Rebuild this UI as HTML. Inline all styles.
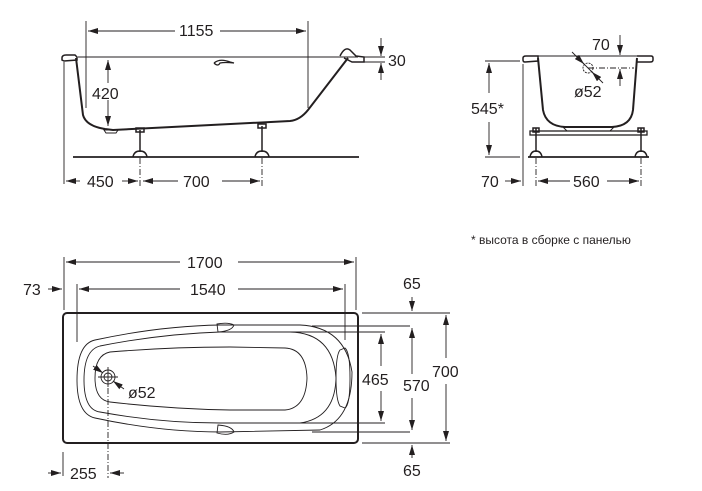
<!DOCTYPE html>
<html><head><meta charset="utf-8"><style>
html,body{margin:0;padding:0;background:#fff;}
svg{display:block;}
text{font-family:"Liberation Sans",sans-serif;fill:#231f20;}
</style></head><body>
<svg width="702" height="491" viewBox="0 0 702 491" xmlns="http://www.w3.org/2000/svg">
<defs>
<marker id="a" viewBox="0 0 10 6" refX="10" refY="3" markerWidth="10" markerHeight="6" orient="auto" markerUnits="userSpaceOnUse"><path d="M0,0 L10,3 L0,6 z" fill="#231f20"/></marker>
</defs>
<g stroke="#231f20" fill="none" stroke-width="0.9">
<!-- ===== Side elevation (left) ===== -->
<line x1="86" y1="21" x2="86" y2="108"/>
<line x1="308" y1="21" x2="308" y2="108"/>
<line x1="175" y1="31" x2="88" y2="31" marker-end="url(#a)"/>
<line x1="220" y1="31" x2="306" y2="31" marker-end="url(#a)"/>
<line x1="78" y1="57" x2="358" y2="57"/>
<line x1="362" y1="57" x2="385" y2="57"/>
<line x1="362" y1="62" x2="385" y2="62"/>
<line x1="381" y1="38" x2="381" y2="56" marker-end="url(#a)"/>
<line x1="381" y1="80" x2="381" y2="63" marker-end="url(#a)"/>
<path d="M62,58 Q62,55 66,55 L75,55 L77,57 L77,60 L64,61 L62,60 z" stroke-width="1.5"/>
<path d="M76,58 L83,115 Q86,126 105,129 L113,130 L290,121 Q300,120 308,110 L348,58" stroke-width="2"/>
<path d="M340,56 Q345,46 350,50 L356,56 L364,57 L364,62 L352,62 Q348,60 344,58" stroke-width="1.5"/>
<path d="M214,63 Q220,58 230,62 L234,63 Q225,62 220,63 Q218,67 214,63" stroke-width="1.3"/>
<line x1="64" y1="62" x2="64" y2="184"/>
<line x1="108" y1="83" x2="108" y2="60" marker-end="url(#a)"/>
<line x1="108" y1="100" x2="108" y2="126" marker-end="url(#a)"/>
<line x1="73" y1="157" x2="359" y2="157" stroke-width="1.8"/>
<path d="M104,130 L118,130 L116,133 L106,133 z" stroke-width="1"/>
<g stroke-width="1.5">
<line x1="140" y1="130" x2="140" y2="152"/><rect x="136" y="128" width="8" height="4"/><path d="M133,157 Q134,151 140,151 Q146,151 147,157"/>
<line x1="262" y1="126" x2="262" y2="152"/><rect x="258" y="124" width="8" height="4"/><path d="M255,157 Q256,151 262,151 Q268,151 269,157"/>
</g>
<g stroke-dasharray="6,2,1,2">
<line x1="140" y1="158" x2="140" y2="186"/><line x1="262" y1="158" x2="262" y2="186"/>
</g>
<line x1="80" y1="181" x2="66" y2="181" marker-end="url(#a)"/>
<line x1="122" y1="181" x2="138" y2="181" marker-end="url(#a)"/>
<line x1="178" y1="181" x2="143" y2="181" marker-end="url(#a)"/>
<line x1="222" y1="181" x2="260" y2="181" marker-end="url(#a)"/>

<!-- ===== End elevation (right) ===== -->
<path d="M523,58 Q523,56 526,56 L538,56 L538,61 L525,62 Q523,62 523,60 z" stroke-width="1.5"/>
<path d="M637,56 L651,56 Q653,56 653,58 L653,60 Q653,62 650,62 L637,62" stroke-width="1.5"/>
<line x1="538" y1="56" x2="637" y2="56"/>
<path d="M538,58 L543,110 Q546,126 565,127 L612,127 Q631,126 633,110 L637,58" stroke-width="2"/>
<path d="M563,127 L567,131 L610,131 L614,127" stroke-width="1"/>
<rect x="530" y="131" width="117" height="4" stroke-width="1.3"/>
<g stroke-width="1.5">
<line x1="536" y1="128" x2="536" y2="152"/><rect x="533" y="128" width="6" height="4"/><path d="M530,157 Q531,151 536,151 Q541,151 542,157"/>
<line x1="641" y1="128" x2="641" y2="152"/><rect x="638" y="128" width="6" height="4"/><path d="M635,157 Q636,151 641,151 Q646,151 647,157"/>
</g>
<line x1="528" y1="157" x2="649" y2="157" stroke-width="1.8"/>
<line x1="485" y1="61" x2="520" y2="61"/>
<line x1="485" y1="157" x2="520" y2="157"/>
<line x1="489" y1="93" x2="489" y2="63" marker-end="url(#a)"/>
<line x1="489" y1="122" x2="489" y2="155" marker-end="url(#a)"/>
<line x1="523" y1="64" x2="523" y2="186"/>
<line x1="505" y1="181" x2="521" y2="181" marker-end="url(#a)"/>
<g stroke-dasharray="6,2,1,2">
<line x1="536" y1="158" x2="536" y2="186"/><line x1="641" y1="158" x2="641" y2="186"/>
<line x1="588" y1="68" x2="634" y2="68"/>
</g>
<line x1="570" y1="181" x2="538" y2="181" marker-end="url(#a)"/>
<line x1="607" y1="181" x2="639" y2="181" marker-end="url(#a)"/>
<circle cx="588" cy="68" r="5" stroke-dasharray="2,1"/>
<line x1="581" y1="61" x2="595" y2="75"/>
<line x1="572" y1="52" x2="584" y2="64" marker-end="url(#a)"/>
<line x1="603" y1="83" x2="592" y2="72" marker-end="url(#a)"/>
<line x1="620" y1="35" x2="620" y2="55" marker-end="url(#a)"/>
<line x1="620" y1="86" x2="620" y2="69" marker-end="url(#a)"/>

<!-- ===== Plan view ===== -->
<rect x="63" y="313" width="295" height="130" rx="4" stroke-width="2"/>
<line x1="64" y1="257" x2="64" y2="310"/>
<line x1="356" y1="257" x2="356" y2="310"/>
<line x1="77" y1="284" x2="77" y2="342"/>
<line x1="345" y1="284" x2="345" y2="340"/>
<line x1="180" y1="262" x2="66" y2="262" marker-end="url(#a)"/>
<line x1="238" y1="262" x2="354" y2="262" marker-end="url(#a)"/>
<line x1="180" y1="289" x2="79" y2="289" marker-end="url(#a)"/>
<line x1="238" y1="289" x2="343" y2="289" marker-end="url(#a)"/>
<line x1="48" y1="289" x2="62" y2="289" marker-end="url(#a)"/>
<!-- rim outlines -->
<path d="M95,340 Q160,326 220,325 L300,325 Q345,327 352,372 Q352,420 320,430 L220,432 Q160,432 95,418 Q77,414 77,380 Q77,344 95,340 z" stroke-width="0.9"/>
<path d="M100,346 Q160,334 220,332 L290,332 Q333,333 336,378 Q335,418 300,423 L220,423 Q160,423 100,412 Q84,410 84,380 Q84,350 100,346 z" stroke-width="0.9"/>
<path d="M110,352 Q170,347 230,347 L285,348 Q306,349 307,378 Q306,408 285,410 L230,410 Q170,409 110,402 Q95,400 95,378 Q95,355 110,352 z" stroke-width="0.9"/>
<path d="M217,324 Q228,322 234,325 Q232,331 218,332 z" stroke-width="0.9"/>
<path d="M217,433 Q228,436 234,432 Q232,426 218,425 z" stroke-width="0.9"/>
<path d="M340,350 L345,348 Q350,352 350,378 Q350,405 345,408 L340,406 Q336,400 336,378 Q336,355 340,350 z" stroke-width="0.9"/>
<circle cx="108" cy="377" r="7"/><circle cx="108" cy="377" r="4"/>
<line x1="98" y1="377" x2="118" y2="377"/><line x1="108" y1="367" x2="108" y2="387"/>
<line x1="93" y1="366" x2="103" y2="373" marker-end="url(#a)"/>
<line x1="124" y1="389" x2="113" y2="381" marker-end="url(#a)"/>
<line x1="108" y1="388" x2="108" y2="478" stroke-dasharray="6,2,1,2"/>
<line x1="63" y1="452" x2="63" y2="476"/>
<line x1="48" y1="473" x2="61" y2="473" marker-end="url(#a)"/>
<line x1="124" y1="473" x2="110" y2="473" marker-end="url(#a)"/>
<!-- right dimension ext lines -->
<line x1="362" y1="313" x2="450" y2="313"/>
<line x1="312" y1="326" x2="410" y2="326"/>
<line x1="287" y1="332" x2="385" y2="332"/>
<line x1="287" y1="423" x2="385" y2="423"/>
<line x1="312" y1="432" x2="410" y2="432"/>
<line x1="362" y1="443" x2="450" y2="443"/>
<line x1="381" y1="366" x2="381" y2="334" marker-end="url(#a)"/>
<line x1="381" y1="391" x2="381" y2="421" marker-end="url(#a)"/>
<line x1="412" y1="374" x2="412" y2="328" marker-end="url(#a)"/>
<line x1="412" y1="398" x2="412" y2="430" marker-end="url(#a)"/>
<line x1="446" y1="358" x2="446" y2="315" marker-end="url(#a)"/>
<line x1="446" y1="384" x2="446" y2="441" marker-end="url(#a)"/>
<line x1="412" y1="297" x2="412" y2="311" marker-end="url(#a)"/>
<line x1="412" y1="458" x2="412" y2="445" marker-end="url(#a)"/>
</g>
<g font-size="16">
<text x="179" y="36">1155</text>
<text x="388" y="66">30</text>
<text x="92" y="99">420</text>
<text x="87" y="187">450</text>
<text x="183" y="187">700</text>
<text x="592" y="50">70</text>
<text x="574" y="97">ø52</text>
<text x="471" y="114">545*</text>
<text x="481" y="187">70</text>
<text x="573" y="187">560</text>
<text x="187" y="268">1700</text>
<text x="190" y="295">1540</text>
<text x="23" y="295">73</text>
<text x="403" y="289">65</text>
<text x="403" y="476">65</text>
<text x="128" y="398">ø52</text>
<text x="362" y="385">465</text>
<text x="403" y="391">570</text>
<text x="432" y="377">700</text>
<text x="70" y="479">255</text>
</g>
<text x="471" y="244" font-size="12">* высота в сборке с панелью</text>
</svg>
</body></html>
